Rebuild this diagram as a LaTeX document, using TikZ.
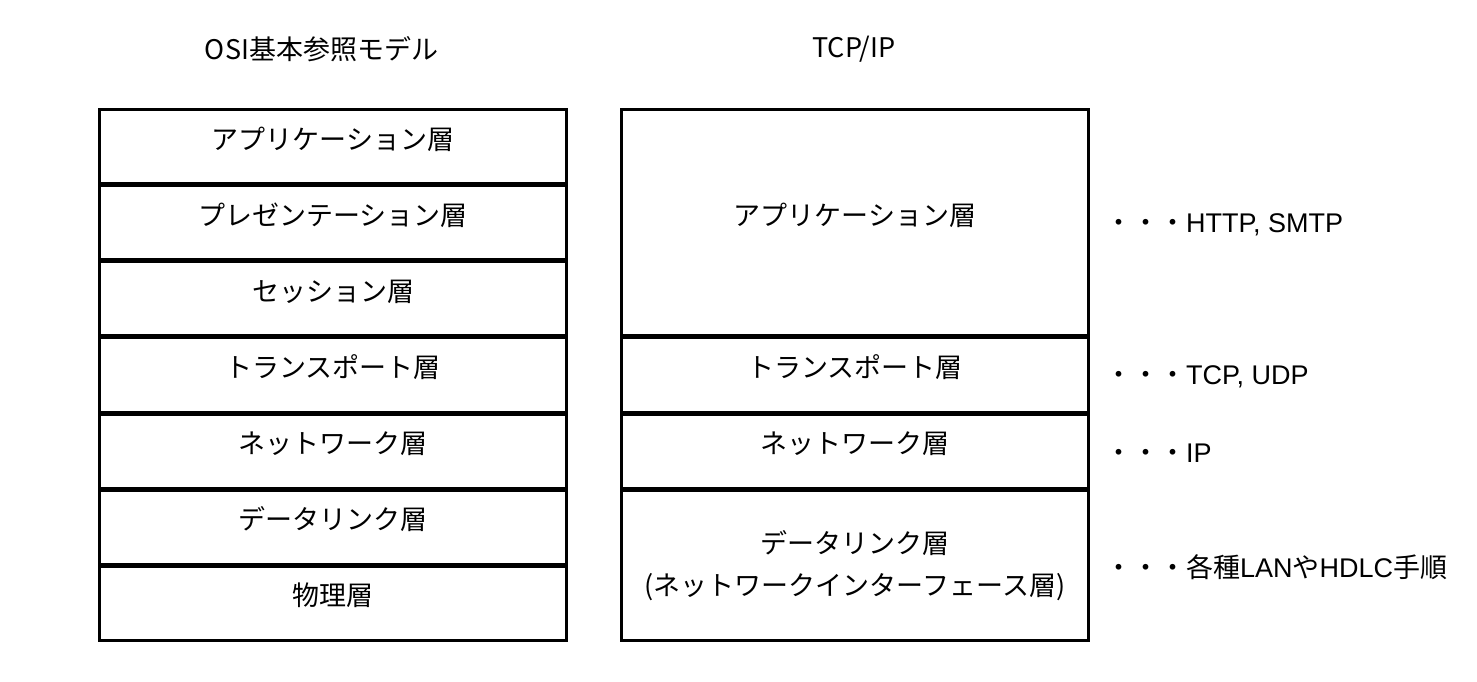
\documentclass[tikz,border=0pt]{standalone}
\usepackage{fontspec}
\setmainfont{Noto Sans CJK JP}
\newfontfamily\latinfont{Liberation Sans}
\usetikzlibrary{positioning}

\tikzset{
  layer/.style={draw, line width=3pt, minimum width=467pt, minimum height=74.14pt,
    inner sep=0pt, outer sep=0pt, align=center, text height=0.8em, text depth=0.3em,
    font=\fontsize{27}{42}\selectfont},
  title/.style={font=\fontsize{27}{30}\selectfont},
  proto/.style={font=\fontsize{27}{30}\selectfont, yshift=-2pt}
}

\begin{document}
\begin{tikzpicture}[x=1pt,y=-1pt]
\useasboundingbox (0,0) rectangle (1477,682);
% titles
\node[title] (osititle) at (321.5,49) {OSI基本参照モデル};
\node[title] (tcptitle) at (854,49) {TCP/IP};
%
% OSI reference model
\node[layer] (oapp) at (333,146.57) {アプリケーション層};
\node[layer, below=2pt of oapp] (opre) {プレゼンテーション層};
\node[layer, below=2pt of opre] (oses) {セッション層};
\node[layer, below=2pt of oses] (otra) {トランスポート層};
\node[layer, below=2pt of otra] (onet) {ネットワーク層};
\node[layer, below=2pt of onet] (odl) {データリンク層};
\node[layer, below=2pt of odl] (ophy) {物理層};
%
% TCP/IP
\node[layer, minimum height=226.42pt] (tapp) at (855,222.71) {アプリケーション層};
\node[layer, below=2pt of tapp] (ttra) {トランスポート層};
\node[layer, below=2pt of ttra] (tnet) {ネットワーク層};
\node[layer, minimum height=150.28pt, text height=, text depth=, below=2pt of tnet] (tdl)
  {データリンク層\\(ネットワークインターフェース層)};
%
% protocols
\node[proto, right=13pt of tapp] (papp) {・・・{\latinfont HTTP, SMTP}};
\node[proto, right=13pt of ttra] (ptra) {・・・{\latinfont TCP, UDP}};
\node[proto, right=13pt of tnet] (pnet) {・・・{\latinfont IP}};
\node[proto, right=13pt of tdl] (pdl) {・・・各種{\latinfont LAN}や{\latinfont HDLC}手順};
\end{tikzpicture}
\end{document}
